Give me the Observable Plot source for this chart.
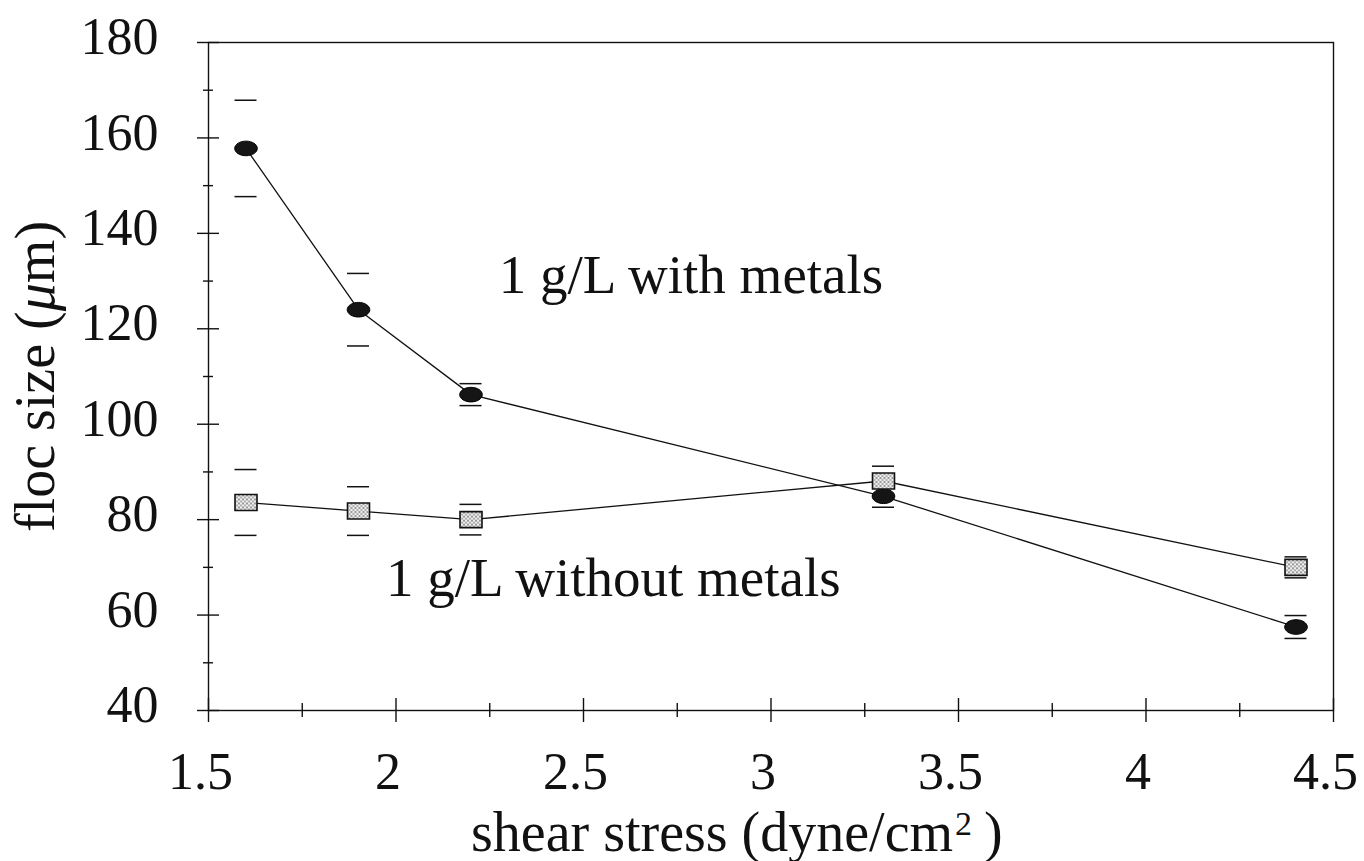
<!DOCTYPE html>
<html><head><meta charset="utf-8">
<script src="https://cdn.jsdelivr.net/npm/d3@7"></script>
<script src="https://cdn.jsdelivr.net/npm/@observablehq/plot@0.6"></script>
<style>body{margin:0;background:#fff}</style>
</head><body><div id="chart"></div>
<script>
const shear = [1.6, 1.9, 2.2, 3.3, 4.4];
const withMetals = [157.8, 124.0, 106.2, 84.9, 57.5];
const withMetalsErr = [10.1, 7.6, 2.3, 2.3, 2.4];
const withoutMetals = [83.6, 81.8, 80.0, 88.1, 70.0];
const withoutMetalsErr = [6.9, 5.1, 3.2, 3.1, 2.2];
const xTicks = [1.5, 2, 2.5, 3, 3.5, 4, 4.5];
const xMinor = [1.75, 2.25, 2.75, 3.25, 3.75, 4.25];
const yTicks = [40, 60, 80, 100, 120, 140, 160, 180];
const yMinor = [50, 70, 90, 110, 130, 150, 170];
const labelWith = "1 g/L with metals";
const labelWithout = "1 g/L without metals";
const xTitle = ["shear stress (dyne/cm", "2", ")"];
const yTitle = ["floc size (", "\u03bc", "m)"];

const FONT = "'Liberation Serif', 'Times New Roman', serif";
const rowsWith = shear.map((x, i) => ({x, y: withMetals[i], e: withMetalsErr[i]}));
const rowsWithout = shear.map((x, i) => ({x, y: withoutMetals[i], e: withoutMetalsErr[i]}));

const cv = document.createElement("canvas").getContext("2d");
function tw(s, size, style = "") { cv.font = `${style} ${size}px 'Liberation Serif'`; return cv.measureText(s).width; }

const ellipse = {draw(ctx) {
  const rx = 11.3, ry = 7.3, k = 0.5523;
  ctx.moveTo(rx, 0);
  ctx.bezierCurveTo(rx, ry * k, rx * k, ry, 0, ry);
  ctx.bezierCurveTo(-rx * k, ry, -rx, ry * k, -rx, 0);
  ctx.bezierCurveTo(-rx, -ry * k, -rx * k, -ry, 0, -ry);
  ctx.bezierCurveTo(rx * k, -ry, rx, -ry * k, rx, 0);
  ctx.closePath();
}};
const square = {draw(ctx) { ctx.rect(-11, -8, 22, 16); }};

const TS = 52, AS = 55, TITLE = 56, SUP = 34, YT = 56;
const w0 = tw(xTitle[0], TITLE), w1 = tw(xTitle[1], SUP);
const yw0 = tw(yTitle[0], YT), yw1 = tw(yTitle[1], YT, "italic"), yw2 = tw(yTitle[2], YT);
const yW = yw0 + yw1 + yw2;

const errMarks = (rows) => [
  Plot.ruleY(rows, {y: d => d.y + d.e, x1: "x", x2: "x", insetLeft: -11, insetRight: -11, stroke: "#111", strokeWidth: 1.5}),
  Plot.ruleY(rows, {y: d => d.y - d.e, x1: "x", x2: "x", insetLeft: -11, insetRight: -11, stroke: "#111", strokeWidth: 1.5})
];

const svg = Plot.plot({
  width: 1364, height: 861,
  marginLeft: 208, marginRight: 31, marginTop: 42, marginBottom: 151,
  style: {fontFamily: FONT, color: "#111", background: "#fff"},
  x: {domain: [1.5, 4.5]},
  y: {domain: [40, 180]},
  marks: [
    Plot.frame({stroke: "#111", strokeWidth: 1.4}),
    Plot.ruleY(yTicks, {y: d => d, x1: () => 1.5, x2: () => 1.5, insetLeft: -11, insetRight: -11, stroke: "#111", strokeWidth: 1.4}),
    Plot.ruleY(yMinor, {y: d => d, x1: () => 1.5, x2: () => 1.5, insetLeft: -5, insetRight: -5, stroke: "#111", strokeWidth: 1.4}),
    Plot.ruleX(xTicks, {x: d => d, y1: () => 40, y2: () => 40, insetTop: -12, insetBottom: -12, stroke: "#111", strokeWidth: 1.4}),
    Plot.ruleX(xMinor, {x: d => d, y1: () => 40, y2: () => 40, insetTop: -7, insetBottom: -7, stroke: "#111", strokeWidth: 1.4}),
    Plot.axisX(xTicks, {tickSize: 0, tickPadding: 42, dx: -8, tickFormat: d => String(d), fontSize: TS, label: null}),
    Plot.axisY(yTicks, {tickSize: 0, tickPadding: 50, dy: -5, tickFormat: d => String(d), fontSize: TS, label: null}),
    Plot.line(rowsWith, {x: "x", y: "y", stroke: "#111", strokeWidth: 1.3}),
    Plot.line(rowsWithout, {x: "x", y: "y", stroke: "#111", strokeWidth: 1.3}),
    ...errMarks(rowsWith),
    ...errMarks(rowsWithout),
    Plot.dot(rowsWith, {x: "x", y: "y", symbol: ellipse, r: 5, fill: "#151515", stroke: "#000", strokeWidth: 1}),
    Plot.dot(rowsWithout, {x: "x", y: "y", symbol: square, r: 5, fill: "url(#stip)", stroke: "#111", strokeWidth: 1.6}),
    Plot.text([labelWith], {x: () => 2.274, y: () => 127.4, text: d => d, textAnchor: "start", lineAnchor: "bottom", fontSize: AS, fill: "#111"}),
    Plot.text([labelWithout], {x: () => 1.973, y: () => 64.1, text: d => d, textAnchor: "start", lineAnchor: "bottom", fontSize: AS, fill: "#111"}),
    Plot.text([xTitle[0]], {x: () => 2.2, y: () => 40, dy: 140, text: d => d, textAnchor: "start", lineAnchor: "bottom", fontSize: TITLE, fill: "#111"}),
    Plot.text([xTitle[1]], {x: () => 2.2, y: () => 40, dx: w0 + 2, dy: 124, text: d => d, textAnchor: "start", lineAnchor: "bottom", fontSize: SUP, fill: "#111"}),
    Plot.text([xTitle[2]], {x: () => 2.2, y: () => 40, dx: w0 + w1 + 14, dy: 140, text: d => d, textAnchor: "start", lineAnchor: "bottom", fontSize: TITLE, fill: "#111"}),
    Plot.text([yTitle[0]], {x: () => 1.5, y: () => 110, dx: -172, dy: yW / 2, rotate: -90, text: d => d, textAnchor: "start", fontSize: YT, fill: "#111"}),
    Plot.text([yTitle[1]], {x: () => 1.5, y: () => 110, dx: -172, dy: yW / 2 - yw0, rotate: -90, text: d => d, textAnchor: "start", fontSize: YT, fontStyle: "italic", fill: "#111"}),
    Plot.text([yTitle[2]], {x: () => 1.5, y: () => 110, dx: -172, dy: yW / 2 - yw0 - yw1, rotate: -90, text: d => d, textAnchor: "start", fontSize: YT, fill: "#111"})
  ]
});
const ns = "http://www.w3.org/2000/svg";
const defs = document.createElementNS(ns, "defs");
defs.innerHTML = `<pattern id="stip" width="4" height="4" patternUnits="userSpaceOnUse"><rect width="4" height="4" fill="#efefef"/><circle cx="1" cy="1" r="0.9" fill="#707070"/><circle cx="3" cy="3" r="0.9" fill="#909090"/></pattern>`;
svg.insertBefore(defs, svg.firstChild);
document.getElementById("chart").appendChild(svg);
</script>
</body></html>
